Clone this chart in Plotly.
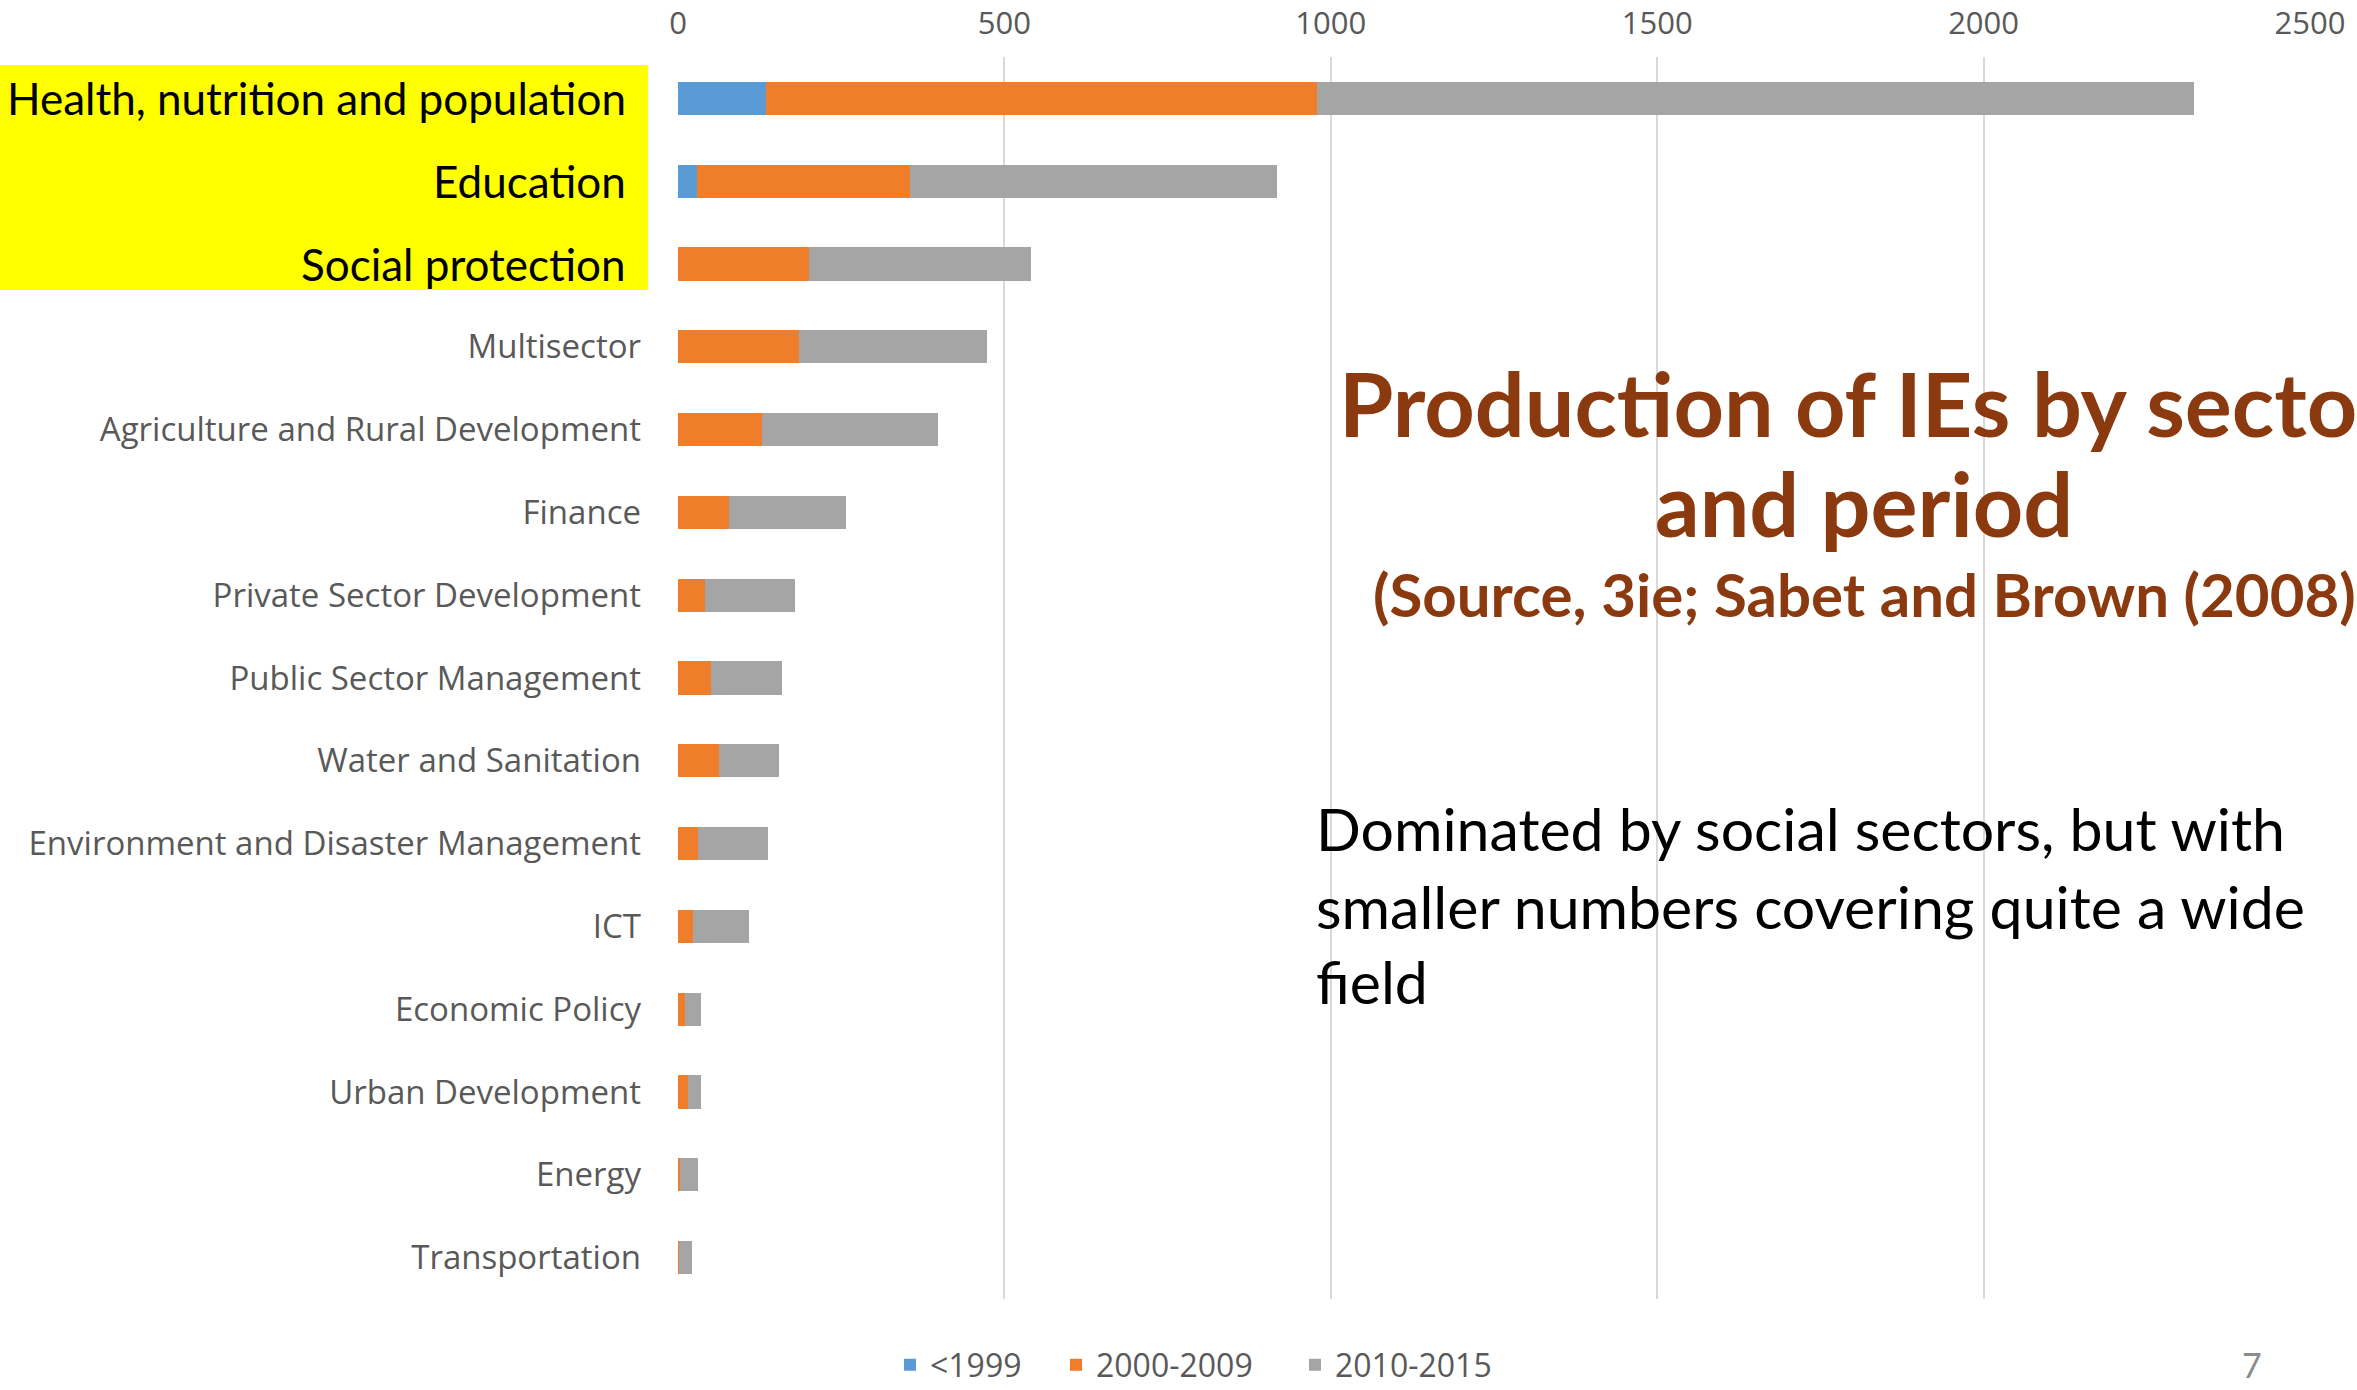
import plotly.graph_objects as go

sectors = [
    "Health, nutrition and population",
    "Education",
    "Social protection",
    "Multisector",
    "Agriculture and Rural Development",
    "Finance",
    "Private Sector Development",
    "Public Sector Management",
    "Water and Sanitation",
    "Environment and Disaster Management",
    "ICT",
    "Economic Policy",
    "Urban Development",
    "Energy",
    "Transportation",
]
before_1999 = [135, 29, 0, 0, 0, 0, 0, 0, 0, 0, 0, 0, 0, 0, 0]
p2000_2009 = [844, 326, 200, 186, 129, 78, 42, 50, 63, 30, 23, 10, 15, 3, 1]
p2010_2015 = [1343, 562, 340, 287, 270, 180, 137, 109, 91, 108, 85, 25, 20, 28, 20]
series_names = ["<1999", "2000-2009", "2010-2015"]
x_ticks = [0, 500, 1000, 1500, 2000, 2500]
highlighted = ["Health, nutrition and population", "Education", "Social protection"]

colors = ["#5B9BD5", "#F07D2A", "#A5A5A5"]

W, H = 2357, 1390

# plot area in window pixels
PX0, PX1, PY0, PY1 = 678, 2310, 57, 1299
L, R, T, B = PX0, W - PX1, PY0, H - PY1
PW, PH = W - L - R, H - T - B


def px(xw):
    return (xw - PX0) / PW


def py(yw):
    return 1 - (yw - PY0) / PH


ticktext = ["" if s in highlighted else s for s in sectors]

legend_ids = ["legend", "legend2", "legend3"]
legend_x = [890, 1056, 1295]

fig = go.Figure()
for name, vals, col, lid in zip(
    series_names, [before_1999, p2000_2009, p2010_2015], colors, legend_ids
):
    fig.add_trace(
        go.Bar(
            y=sectors,
            x=vals,
            name=name,
            orientation="h",
            legend=lid,
            marker=dict(color=col, line=dict(width=0)),
        )
    )

legend_common = dict(
    orientation="h",
    xref="container",
    yref="container",
    xanchor="left",
    y=1 - 1365 / H,
    yanchor="middle",
    font=dict(size=32, color="#595959", family="Open Sans"),
    itemwidth=30,
    bgcolor="rgba(0,0,0,0)",
    borderwidth=0,
)

fig.update_layout(
    width=W,
    height=H,
    autosize=False,
    barmode="stack",
    bargap=0.6,
    plot_bgcolor="white",
    paper_bgcolor="white",
    margin=dict(l=L, r=R, t=T, b=B, pad=0, autoexpand=False),
    font=dict(family="Open Sans", color="#595959"),
    xaxis=dict(
        side="top",
        range=[0, 2500],
        tickvals=x_ticks,
        ticktext=[str(v) for v in x_ticks],
        showgrid=True,
        gridcolor="#D9D9D9",
        gridwidth=2,
        zeroline=False,
        showline=False,
        automargin=False,
        tickfont=dict(size=31, color="#595959", family="Open Sans"),
        ticklabelstandoff=16,
    ),
    yaxis=dict(
        categoryorder="array",
        categoryarray=sectors,
        tickvals=sectors,
        ticktext=ticktext,
        autorange="reversed",
        showgrid=False,
        zeroline=False,
        showline=False,
        automargin=False,
        tickfont=dict(size=33, color="#595959", family="Open Sans"),
        ticklabelstandoff=36,
    ),
    legend=dict(x=legend_x[0] / W, **legend_common),
    legend2=dict(x=legend_x[1] / W, **legend_common),
    legend3=dict(x=legend_x[2] / W, **legend_common),
    showlegend=True,
)

# yellow highlight box behind the first three labels
fig.add_shape(
    type="rect",
    xref="paper",
    yref="paper",
    x0=px(0),
    x1=px(648),
    y0=py(290),
    y1=py(65),
    fillcolor="#FFFF00",
    line=dict(width=0),
    layer="below",
)

# highlighted sector labels
for s in highlighted:
    fig.add_annotation(
        text=s,
        xref="paper", yref="y",
        x=px(628), y=s,
        xanchor="right", yanchor="middle", showarrow=False,
        font=dict(size=44, color="#000000", family="Lato"),
    )

title_color = "#8B3A0F"
cx = 1864
fig.add_annotation(
    text="<b>Production of IEs by sector</b>",
    xref="paper", yref="paper",
    x=px(cx), y=py(403),
    xanchor="center", yanchor="middle", showarrow=False,
    font=dict(size=88, color=title_color, family="Lato"),
)
fig.add_annotation(
    text="<b>and period</b>",
    xref="paper", yref="paper",
    x=px(cx), y=py(503),
    xanchor="center", yanchor="middle", showarrow=False,
    font=dict(size=88, color=title_color, family="Lato"),
)
fig.add_annotation(
    text="<b>(Source, 3ie; Sabet and Brown (2008)</b>",
    xref="paper", yref="paper",
    x=px(cx), y=py(594),
    xanchor="center", yanchor="middle", showarrow=False,
    font=dict(size=60, color=title_color, family="Lato"),
)
body_lines = [
    "Dominated by social sectors, but with",
    "smaller numbers covering quite a wide",
    "field",
]
for line, yy in zip(body_lines, [828, 906, 981]):
    fig.add_annotation(
        text=line,
        xref="paper", yref="paper",
        x=px(1314), y=py(yy),
        xanchor="left", yanchor="middle", showarrow=False,
        font=dict(size=59, color="#000000", family="Lato"),
    )
fig.add_annotation(
    text="7",
    xref="paper", yref="paper",
    x=px(2252), y=py(1364),
    xanchor="center", yanchor="middle", showarrow=False,
    font=dict(size=34, color="#8C8C8C", family="Lato"),
)

fig.write_html(
    "out.html",
    config={"displayModeBar": False},
    post_script="document.body.style.margin='0';document.body.style.overflow='hidden';",
)
